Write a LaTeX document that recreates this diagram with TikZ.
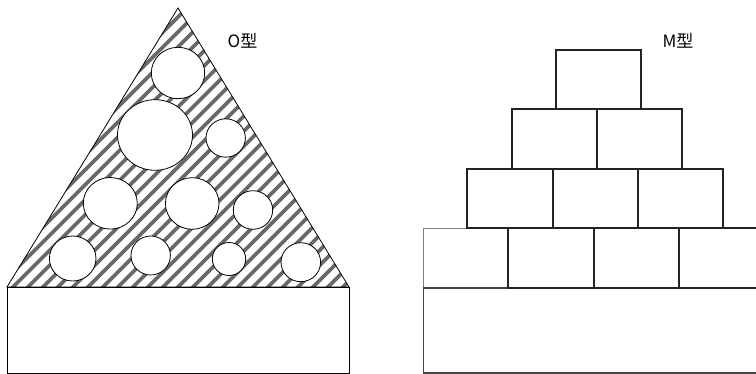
\documentclass[tikz,border=0pt]{standalone}
\usepackage{fontspec}
\newfontfamily\cjk{Noto Sans CJK SC}
\definecolor{cinzalistra}{RGB}{105,105,105}
\definecolor{tinta}{RGB}{35,35,35}
\begin{document}
\begin{tikzpicture}[
    x=1pt, y=-1pt,
    % Estilos usados nos dois modelos
    contorno/.style={draw=black, line width=0.8pt},
    listra/.style={draw=cinzalistra, line width=3.6pt},
    bolha/.style={draw=black, fill=white, line width=0.8pt},
    tijolo/.style={draw=tinta, line width=2pt},
    tijoloclaro/.style={draw=gray, line width=1.2pt},
    rotulo/.style={font=\cjk\fontsize{17}{20}\selectfont, inner sep=0pt}
]

% =========================================================
% === PARÂMETROS DA PILHA DE TIJOLOS (Modelo M) ===
% =========================================================
\def\tijX{555.7}   % Borda esquerda do tijolo do topo
\def\tijY{50}      % Borda superior do tijolo do topo
\def\tijL{85.3}    % Largura de cada tijolo
\def\tijA{59.5}    % Altura de cada tijolo
\def\tijRecuo{44.2} % Recuo horizontal de uma fileira para a seguinte
% =========================================================

\useasboundingbox (0,0) rectangle (756,374);
\clip (0,0) rectangle (756,374);

% --- MODELO O (Esquerda) : triângulo listrado com bolhas ---
\coordinate (topo) at (178,8);
\coordinate (baseE) at (7,287);
\coordinate (baseD) at (349,287);

\begin{scope}
    \clip (topo) -- (baseE) -- (baseD) -- cycle;
    \foreach \c in {-300,-285,...,360}
        \draw[listra] (\c,300) -- ++(300,-300);
\end{scope}
\draw[contorno] (topo) -- (baseE) -- (baseD) -- cycle;

% Bolhas: centro x, centro y, raio x, raio y
\foreach \cx/\cy/\rx/\ry in {178/73/26.7/25.7, 155/135/37.5/35.3,
        225.7/138/19.7/19.2, 110.3/203.3/27/25.8, 192.2/203.5/26.8/25.8,
        253/210/19.7/19.3, 72.7/258.5/23.3/22.5, 150.7/255.5/19.7/19.5,
        229/259/16.7/16.5, 300.8/262.2/19.8/19.5}
    \draw[bolha] (\cx,\cy) ellipse ({\rx} and {\ry});

% Base do modelo O
\draw[contorno] (baseE) rectangle (349,373);

\node[rotulo] (rotO) at (242.5,41) {O型};

% --- MODELO M (Direita) : pilha de tijolos ---
% Tijolo da ponta esquerda da última fileira (traço mais claro)
\draw[tijoloclaro] ({\tijX-3*\tijRecuo},{\tijY+3*\tijA})
    rectangle ++(\tijL,\tijA);
% Base do modelo M
\draw[tijoloclaro, draw=tinta!85] ({\tijX-3*\tijRecuo},{\tijY+4*\tijA})
    rectangle ++(400,85);

\foreach \f in {0,...,3}
    \foreach \k in {0,...,\f}{
        % pula o tijolo claro já desenhado
        \ifnum\f\k=30 \else
        \draw[tijolo] ({\tijX-\f*\tijRecuo+\k*\tijL},{\tijY+\f*\tijA})
            rectangle ++(\tijL,\tijA);
        \fi
    }

\node[rotulo] (rotM) at (678,41) {M型};

\end{tikzpicture}
\end{document}
